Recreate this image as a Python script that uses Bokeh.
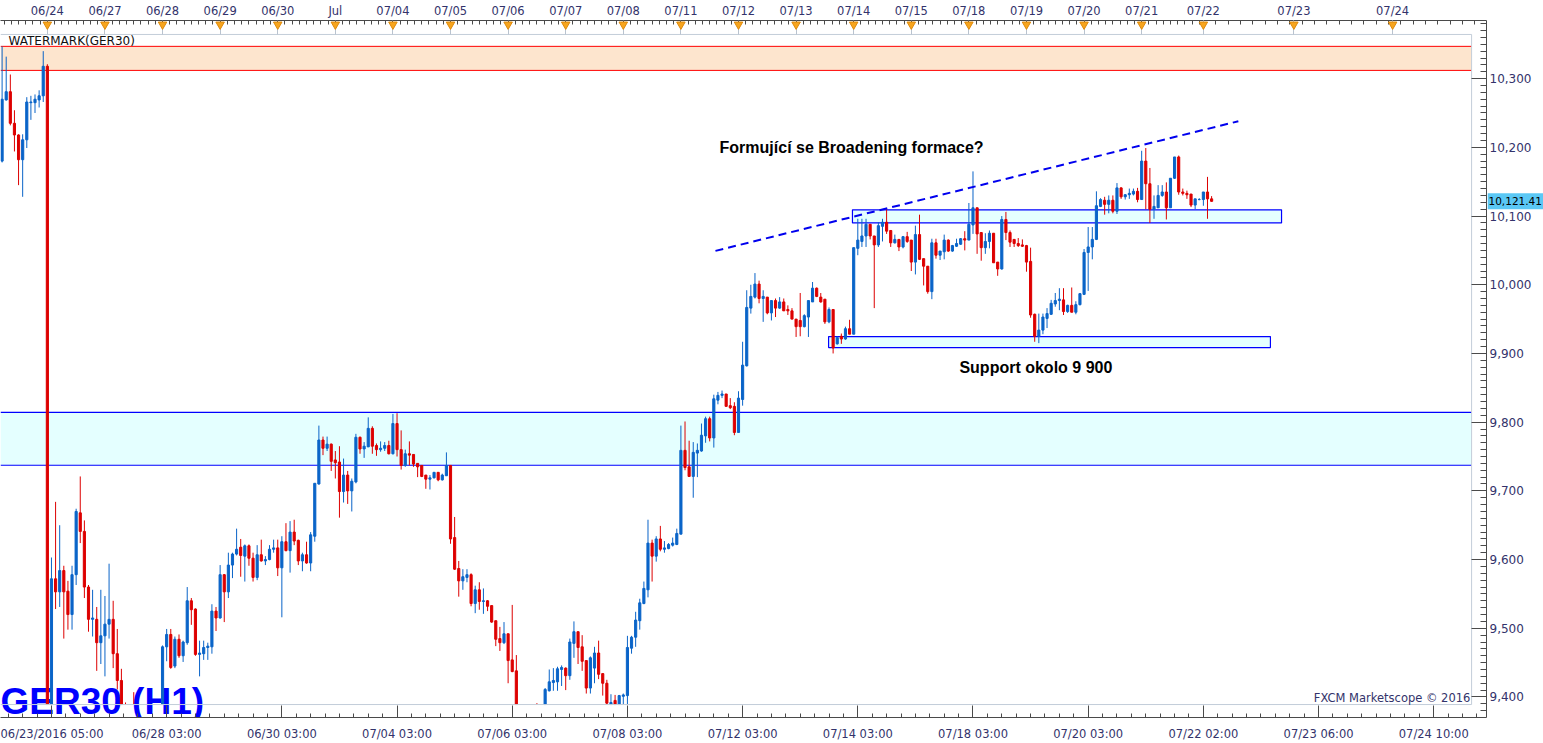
import numpy as np
from bokeh.plotting import figure
from bokeh.layouts import row
from bokeh.models import ColumnDataSource, FixedTicker, LinearAxis, Label, Range1d
from bokeh.embed import file_html
from bokeh.resources import INLINE
from bokeh.core.properties import value

# ---------------- data (GER30, H1 candles, index = bar number) ----------------
opens = [10180, 10269, 10281, 10235, 10218, 10182, 10211, 10265, 10265, 10269,
         10275, 10318, 9260, 9572, 9553, 9584, 9554, 9520, 9578, 9668,
         9641, 9560, 9513, 9513, 9479, 9489, 9506, 9513, 9463, 9424,
         9378, 9350, 9372, 9335, 9318, 9350, 9365, 9340, 9360, 9375,
         9473, 9491, 9445, 9484, 9460, 9479, 9540, 9528, 9462, 9463,
         9472, 9473, 9525, 9515, 9578, 9553, 9592, 9608, 9618, 9605,
         9620, 9602, 9574, 9607, 9598, 9600, 9615, 9617, 9588, 9626,
         9613, 9640, 9628, 9598, 9607, 9595, 9634, 9710, 9774, 9762,
         9768, 9745, 9742, 9699, 9723, 9700, 9713, 9778, 9761, 9764,
         9791, 9766, 9760, 9762, 9766, 9754, 9798, 9760, 9737, 9754,
         9753, 9740, 9737, 9723, 9717, 9719, 9727, 9716, 9722, 9737,
         9632, 9587, 9569, 9574, 9578, 9536, 9556, 9539, 9540, 9533,
         9511, 9485, 9479, 9492, 9454, 9438, 9372, 9360, 9372, 9356,
         9380, 9370, 9381, 9409, 9421, 9422, 9440, 9442, 9431, 9478,
         9495, 9473, 9453, 9413, 9442, 9464, 9434, 9420, 9387, 9395,
         9386, 9401, 9402, 9471, 9487, 9511, 9536, 9556, 9624, 9605,
         9630, 9615, 9616, 9621, 9622, 9637, 9759, 9735, 9721, 9755,
         9758, 9780, 9805, 9777, 9832, 9839, 9841, 9824, 9823, 9785,
         9833, 9882, 9966, 9982, 10001, 9980, 9982, 9959, 9977, 9966,
         9975, 9964, 9962, 9950, 9948, 9939, 9953, 9975, 9995, 9982,
         9979, 9946, 9964, 9914, 9925, 9921, 9936, 9928, 10053, 10063,
         10071, 10088, 10071, 10058, 10085, 10091, 10079, 10061, 10066, 10055,
         10070, 10065, 10033, 10073, 10038, 10027, 9990, 10061, 10043, 10048,
         10065, 10049, 10056, 10059, 10067, 10065, 10087, 10112, 10076, 10054,
         10063, 10075, 10033, 10023, 10095, 10076, 10066, 10060, 10058, 10057,
         10034, 9957, 9925, 9934, 9951, 9957, 9972, 9977, 9978, 9961,
         9970, 9960, 9971, 9986, 10047, 10055, 10066, 10114, 10123, 10117,
         10123, 10107, 10141, 10128, 10131, 10132, 10136, 10124, 10180, 10147,
         10110, 10112, 10130, 10135, 10112, 10155, 10186, 10135, 10133, 10132,
         10116, 10124, 10124, 10135, 10125]
highs = [10347, 10332, 10306, 10254, 10219, 10219, 10273, 10275, 10277, 10283,
         10340, 10321, 9603, 9684, 9650, 9591, 9569, 9591, 9674, 9721,
         9657, 9563, 9556, 9531, 9556, 9547, 9594, 9540, 9499, 9441,
         9392, 9380, 9407, 9370, 9360, 9378, 9380, 9375, 9385, 9475,
         9499, 9499, 9488, 9491, 9482, 9560, 9544, 9529, 9482, 9482,
         9479, 9535, 9531, 9592, 9579, 9610, 9610, 9645, 9630, 9622,
         9622, 9610, 9621, 9629, 9605, 9621, 9629, 9629, 9634, 9653,
         9656, 9658, 9629, 9610, 9626, 9640, 9711, 9795, 9779, 9779,
         9769, 9758, 9765, 9747, 9729, 9718, 9783, 9779, 9771, 9807,
         9794, 9769, 9772, 9771, 9773, 9812, 9813, 9788, 9760, 9772,
         9753, 9740, 9737, 9723, 9723, 9727, 9727, 9725, 9756, 9737,
         9662, 9598, 9586, 9586, 9580, 9562, 9567, 9558, 9541, 9533,
         9511, 9502, 9509, 9492, 9534, 9461, 9385, 9380, 9378, 9384,
         9391, 9386, 9413, 9440, 9442, 9444, 9446, 9443, 9485, 9510,
         9495, 9490, 9453, 9459, 9473, 9482, 9434, 9425, 9404, 9403,
         9403, 9405, 9489, 9489, 9524, 9543, 9568, 9658, 9629, 9634,
         9649, 9627, 9624, 9632, 9645, 9795, 9801, 9773, 9771, 9769,
         9798, 9808, 9808, 9840, 9844, 9846, 9841, 9835, 9829, 9845,
         9917, 9992, 10000, 10017, 10006, 9992, 9982, 9977, 9980, 9982,
         9980, 9970, 9966, 9950, 9988, 9957, 9977, 10004, 9996, 9988,
         9979, 9967, 9964, 9925, 9929, 9939, 9949, 10054, 10096, 10096,
         10096, 10088, 10071, 10091, 10096, 10110, 10079, 10073, 10066, 10071,
         10077, 10065, 10086, 10102, 10038, 10027, 10067, 10067, 10049, 10073,
         10066, 10058, 10067, 10068, 10078, 10119, 10165, 10112, 10076, 10075,
         10079, 10075, 10033, 10100, 10106, 10079, 10066, 10068, 10066, 10058,
         10054, 9958, 9958, 9958, 9966, 9978, 9988, 9995, 9995, 9971,
         9996, 9976, 9988, 10052, 10084, 10084, 10136, 10126, 10128, 10130,
         10130, 10148, 10142, 10132, 10140, 10140, 10141, 10195, 10199, 10170,
         10130, 10145, 10145, 10149, 10155, 10186, 10188, 10140, 10137, 10132,
         10125, 10126, 10135, 10157, 10129]
lows = [10178, 10268, 10232, 10194, 10145, 10128, 10199, 10240, 10250, 10258,
        10266, 9220, 9230, 9528, 9531, 9485, 9498, 9498, 9563, 9624,
        9544, 9495, 9488, 9438, 9448, 9430, 9485, 9442, 9411, 9362,
        9340, 9330, 9320, 9300, 9300, 9335, 9330, 9330, 9350, 9365,
        9452, 9441, 9442, 9457, 9451, 9476, 9505, 9460, 9430, 9454,
        9454, 9463, 9496, 9514, 9509, 9544, 9573, 9606, 9575, 9568,
        9591, 9568, 9570, 9597, 9592, 9599, 9610, 9576, 9516, 9612,
        9581, 9621, 9592, 9583, 9594, 9583, 9626, 9709, 9752, 9758,
        9729, 9718, 9661, 9683, 9681, 9670, 9711, 9754, 9748, 9764,
        9754, 9751, 9757, 9758, 9753, 9753, 9750, 9731, 9735, 9737,
        9735, 9720, 9720, 9703, 9702, 9718, 9714, 9715, 9722, 9623,
        9585, 9546, 9556, 9567, 9532, 9522, 9527, 9521, 9525, 9508,
        9474, 9467, 9477, 9420, 9436, 9360, 9350, 9345, 9350, 9350,
        9362, 9360, 9375, 9408, 9409, 9409, 9416, 9410, 9425, 9457,
        9448, 9438, 9405, 9405, 9420, 9426, 9402, 9380, 9380, 9378,
        9380, 9385, 9385, 9463, 9473, 9498, 9535, 9545, 9568, 9597,
        9612, 9610, 9615, 9619, 9621, 9637, 9730, 9721, 9690, 9720,
        9757, 9770, 9772, 9763, 9826, 9835, 9823, 9819, 9781, 9785,
        9824, 9881, 9958, 9980, 9973, 9946, 9957, 9948, 9953, 9965,
        9962, 9956, 9950, 9924, 9925, 9938, 9924, 9975, 9982, 9974,
        9943, 9944, 9900, 9913, 9914, 9920, 9928, 9928, 10043, 10055,
        10055, 10066, 9966, 10055, 10063, 10074, 10055, 10060, 10049, 10053,
        10061, 10020, 10015, 10036, 9999, 9987, 9979, 10038, 10036, 10037,
        10048, 10048, 10055, 10058, 10050, 10065, 10074, 10045, 10035, 10045,
        10053, 10032, 10013, 10022, 10065, 10055, 10055, 10055, 10055, 10019,
        9952, 9917, 9915, 9928, 9937, 9956, 9968, 9963, 9956, 9959,
        9960, 9957, 9970, 9985, 9991, 10037, 10065, 10113, 10102, 10104,
        10104, 10103, 10125, 10124, 10125, 10130, 10120, 10124, 10110, 10090,
        10096, 10112, 10128, 10095, 10112, 10154, 10131, 10130, 10125, 10113,
        10110, 10123, 10115, 10096, 10121]
closes = [10270, 10281, 10235, 10218, 10182, 10211, 10266, 10266, 10270, 10275,
          10318, 9260, 9572, 9553, 9584, 9553, 9520, 9578, 9670, 9641,
          9560, 9513, 9515, 9479, 9489, 9506, 9513, 9463, 9424, 9378,
          9350, 9372, 9335, 9318, 9350, 9365, 9340, 9360, 9375, 9473,
          9491, 9443, 9484, 9460, 9480, 9540, 9527, 9462, 9464, 9472,
          9474, 9525, 9515, 9578, 9553, 9592, 9608, 9615, 9606, 9620,
          9602, 9574, 9607, 9598, 9600, 9615, 9617, 9588, 9626, 9613,
          9640, 9627, 9598, 9607, 9595, 9636, 9711, 9774, 9762, 9768,
          9743, 9741, 9699, 9723, 9700, 9714, 9778, 9761, 9765, 9791,
          9765, 9760, 9762, 9766, 9754, 9798, 9760, 9737, 9754, 9752,
          9739, 9735, 9721, 9717, 9719, 9727, 9716, 9723, 9737, 9630,
          9586, 9569, 9575, 9578, 9536, 9556, 9539, 9540, 9532, 9509,
          9484, 9479, 9492, 9453, 9437, 9370, 9360, 9372, 9356, 9378,
          9370, 9381, 9411, 9422, 9424, 9441, 9443, 9431, 9480, 9495,
          9472, 9452, 9413, 9457, 9464, 9433, 9420, 9391, 9392, 9385,
          9402, 9403, 9472, 9487, 9512, 9537, 9558, 9624, 9605, 9630,
          9615, 9617, 9622, 9624, 9638, 9759, 9734, 9721, 9756, 9759,
          9781, 9805, 9777, 9834, 9839, 9841, 9823, 9821, 9785, 9835,
          9883, 9967, 9983, 10001, 9980, 9983, 9959, 9977, 9966, 9975,
          9962, 9962, 9950, 9939, 9939, 9955, 9977, 9995, 9983, 9975,
          9946, 9964, 9908, 9923, 9921, 9936, 9928, 10054, 10065, 10071,
          10088, 10071, 10058, 10086, 10091, 10078, 10061, 10066, 10055, 10070,
          10063, 10033, 10073, 10037, 10027, 9990, 10061, 10043, 10049, 10065,
          10049, 10057, 10060, 10067, 10065, 10088, 10112, 10074, 10054, 10063,
          10075, 10032, 10023, 10095, 10076, 10062, 10060, 10057, 10056, 10033,
          9956, 9925, 9934, 9953, 9958, 9973, 9977, 9979, 9961, 9970,
          9960, 9971, 9987, 10047, 10055, 10066, 10115, 10124, 10117, 10123,
          10107, 10141, 10128, 10131, 10133, 10136, 10124, 10180, 10147, 10110,
          10114, 10130, 10135, 10112, 10155, 10186, 10135, 10133, 10131, 10116,
          10125, 10124, 10135, 10125, 10121.41]

day_ticks = [11, 25, 39, 53, 67, 81, 95, 109, 123, 137, 151, 165, 179, 193, 207,
             221, 235, 249, 263, 277, 292, 314, 338]
day_labels = ["06/24", "06/27", "06/28", "06/29", "06/30", "Jul", "07/04", "07/05",
              "07/06", "07/07", "07/08", "07/11", "07/12", "07/13", "07/14", "07/15",
              "07/18", "07/19", "07/20", "07/21", "07/22", "07/23", "07/24"]
time_ticks = [12, 40, 68, 96, 124, 152, 180, 208, 236, 264, 292, 320, 348]
time_labels = ["06/23/2016 05:00", "06/28 03:00", "06/30 03:00", "07/04 03:00",
               "07/06 03:00", "07/08 03:00", "07/12 03:00", "07/14 03:00",
               "07/18 03:00", "07/20 03:00", "07/22 02:00", "07/23 06:00",
               "07/24 10:00"]
price_ticks = [9400, 9500, 9600, 9700, 9800, 9900, 10000, 10100, 10200, 10300]

resist_zone = [10312, 10347]               # salmon zone at top
pivot_zone = [9737.3, 9814.2]              # cyan zone
range_box = [206.7, 311.0, 10090, 10109]   # x0, x1, y0, y1
support_box = [200.9, 308.3, 9908.6, 9924.5]
trend_x = [173.4, 300.5]
trend_y = [10049.3, 10238.0]
last_price = closes[-1]

# ---------------- layout constants ----------------
W_MAIN, W_AXIS, H = 1487, 56, 743
FRAME_TOP, FRAME_BOT = 18, 717          # px (axis lines)
INNER_TOP, INNER_BOT = 32, 704          # px (light inner frame)
Y_IN_TOP, Y_IN_BOT = 10364.3, 9389.0
PPU = (INNER_BOT - INNER_TOP) / (Y_IN_TOP - Y_IN_BOT)
Y0 = Y_IN_BOT - (FRAME_BOT - INNER_BOT) / PPU
Y1 = Y_IN_TOP + (INNER_TOP - FRAME_TOP) / PPU
X0, X1 = -0.389, 360.82
X_IN_R = 357.2

BLUE, RED = "#0a64c8", "#dd0000"
AX_TXT = "#33336b"
AX_LINE = "#4a4a4a"
FRAME_C = "#c3cdd9"
CYAN = "#e4ffff"

yr = Range1d(Y0, Y1)
p = figure(width=W_MAIN, height=H, x_range=Range1d(X0, X1), y_range=yr,
           output_backend="svg", toolbar_location=None, title=None,
           y_axis_location="right", x_axis_location="below",
           min_border_left=0, min_border_right=1, min_border_top=FRAME_TOP,
           min_border_bottom=H - FRAME_BOT)
p.outline_line_color = None
p.grid.visible = False
p.background_fill_color = "white"
p.border_fill_color = "white"

# zones
p.quad(left=[X0], right=[X_IN_R], bottom=[resist_zone[0]], top=[resist_zone[1]],
       fill_color="#fde5ce", line_color=None)
p.segment(x0=[X0, X0], x1=[X_IN_R, X_IN_R], y0=resist_zone, y1=resist_zone,
          line_color="#ff0000", line_width=1)
p.quad(left=[X0], right=[X_IN_R], bottom=[pivot_zone[0]], top=[pivot_zone[1]],
       fill_color=CYAN, line_color=None)
p.segment(x0=[X0, X0], x1=[X_IN_R, X_IN_R], y0=pivot_zone, y1=pivot_zone,
          line_color="#0000ff", line_width=1.2)
for bx in (range_box, support_box):
    p.quad(left=[bx[0]], right=[bx[1]], bottom=[bx[2]], top=[bx[3]],
           fill_color=CYAN, line_color="#0000ff", line_width=1.2)

# GER30 text under candles
p.text(x=[X0], y=[Y_IN_BOT + 3 / PPU], text=["GER30 (H1)"], text_color="#0000ff",
       text_font=value("Liberation Sans"), text_font_style="bold", text_font_size="37px",
       text_baseline="alphabetic", text_align="left")

# candles
o = np.array(opens, float); h = np.array(highs, float)
l = np.array(lows, float); c = np.array(closes, float)
idx = np.arange(len(o))
col = np.where(c >= o, BLUE, RED)
btop = np.maximum(o, c); bbot = np.minimum(o, c)
vis = h > Y_IN_BOT
wick = ColumnDataSource(dict(x=idx[vis], lo=np.maximum(l, Y_IN_BOT)[vis], hi=h[vis], col=col[vis]))
p.segment(x0="x", x1="x", y0="lo", y1="hi", line_color="col", line_width=1, source=wick)
bv = btop > Y_IN_BOT
body = ColumnDataSource(dict(x=idx[bv], top=btop[bv], bot=np.maximum(bbot, Y_IN_BOT)[bv], col=col[bv]))
p.vbar(x="x", width=0.52, top="top", bottom="bot", fill_color="col", line_color="col",
       line_width=1, source=body)

# trend line
p.line(trend_x, trend_y, line_color="#0000ee", line_width=2, line_dash="8 5")

# inner frame
p.segment(x0=[X0, X_IN_R, X0], x1=[X_IN_R, X_IN_R, X_IN_R],
          y0=[Y_IN_TOP, Y_IN_BOT, Y_IN_BOT], y1=[Y_IN_TOP, Y_IN_TOP, Y_IN_BOT],
          line_color=FRAME_C, line_width=1)

# day markers (triangles in the top strip)
tri = p.scatter(x=day_ticks, y=[Y1 - 4 / PPU] * len(day_ticks), marker="inverted_triangle",
                size=8.5, fill_color="#f7a51e", line_color="#e08a0a")
tri.level = "overlay"

# texts
def lab(x, y, t, size, color, bold=False, font="Liberation Sans", align="left", base="middle"):
    p.add_layout(Label(x=x, y=y, text=t, text_font_size=size, text_color=color,
                       text_font=font, text_font_style="bold" if bold else "normal",
                       text_align=align, text_baseline=base))

lab(174.4, 10200.3, "Formující se Broadening formace?", "16px", "black", bold=True)
lab(232.7, 9879.5, "Support okolo 9 900", "16px", "black", bold=True)
lab(1.56, Y_IN_TOP - 7 / PPU, "WATERMARK(GER30)", "12px", "#111111", font="DejaVu Sans")
lab(X_IN_R - 0.3, Y_IN_BOT + 7 / PPU, "FXCM Marketscope © 2016", "11.5px", AX_TXT,
    font="DejaVu Sans", align="right")

# axes
def style(ax):
    ax.axis_line_color = AX_LINE
    ax.major_tick_line_color = AX_LINE
    ax.minor_tick_line_color = AX_LINE
    ax.major_tick_out = 0
    ax.minor_tick_out = 0
    ax.major_label_text_font = "DejaVu Sans"
    ax.major_label_text_font_size = "11.5px"
    ax.major_label_text_color = AX_TXT

ya = p.yaxis[0]
style(ya)
ya.ticker = FixedTicker(ticks=price_ticks, minor_ticks=list(range(9370, 10390, 10)))
ya.major_label_overrides = {t: "" for t in price_ticks}
ya.major_tick_in = 15
ya.minor_tick_in = 6
ya.major_label_standoff = 0

xa = p.xaxis[0]
style(xa)
xa.ticker = FixedTicker(ticks=time_ticks, minor_ticks=list(np.arange(12 - 3.5 * 3, 361, 3.5)))
xa.major_label_overrides = dict(zip(time_ticks, time_labels))
xa.major_tick_in = 12
xa.minor_tick_in = 4
xa.major_label_standoff = 9

top_minor = list(np.arange(11 - 1.75 * 6, 292.01, 1.75)) + list(range(295, 361, 3))
ta = LinearAxis(ticker=FixedTicker(ticks=day_ticks, minor_ticks=top_minor))
style(ta)
ta.major_label_overrides = dict(zip(day_ticks, day_labels))
ta.major_tick_in = INNER_TOP - FRAME_TOP
ta.major_tick_line_color = "#b9c3cf"
ta.minor_tick_in = 4
ta.major_label_standoff = 3
p.add_layout(ta, "above")

# ---------------- price scale panel (labels + last-price tag) ----------------
q = figure(width=W_AXIS, height=H, x_range=Range1d(0, W_AXIS), y_range=yr,
           output_backend="svg", toolbar_location=None, title=None,
           x_axis_location=None, y_axis_location=None,
           min_border_left=0, min_border_right=0, min_border_top=FRAME_TOP,
           min_border_bottom=H - FRAME_BOT)
q.outline_line_color = None
q.grid.visible = False
q.text(x=[2] * len(price_ticks), y=price_ticks, text=[f"{t:,}" for t in price_ticks],
       text_font=value("DejaVu Sans"), text_font_size="12px", text_color=AX_TXT,
       text_align="left", text_baseline="middle")
q.quad(left=[0], right=[W_AXIS], bottom=[last_price - 8 / PPU], top=[last_price + 8 / PPU],
       fill_color="#5bc8f5", line_color=None)
q.text(x=[1], y=[last_price], text=[f"{last_price:,.2f}"], text_font=value("DejaVu Sans"),
       text_font_size="10.5px", text_color="black", text_align="left", text_baseline="middle")

open("out.html", "w").write(file_html(row(p, q), INLINE))
